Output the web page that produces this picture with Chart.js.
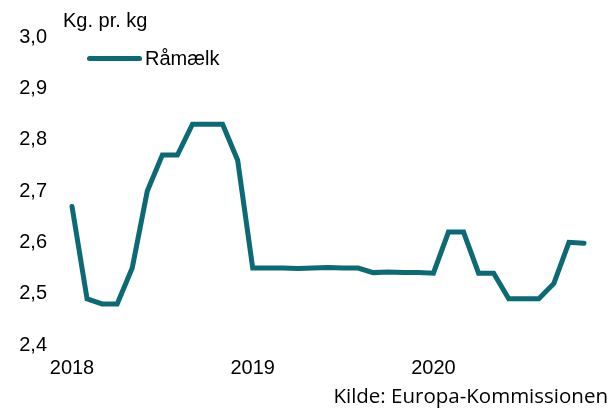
<!DOCTYPE html>
<html>
<head>
<meta charset="utf-8">
<script src="https://cdn.jsdelivr.net/npm/chart.js@4"></script>
<style>
  html, body { margin: 0; padding: 0; background: #fff; }
  #wrap { position: relative; width: 614px; height: 410px; overflow: hidden; }
  #c { position: absolute; left: 0; top: 0; }
  .txt { position: absolute; font-family: "Liberation Sans", Arial, sans-serif; font-size: 20px; color: #000; white-space: nowrap; line-height: 1; }
  #unit { left: 63px; top: 10px; }
  #legend { position: absolute; left: 87px; top: 47px; display: flex; align-items: center; font-family: "Liberation Sans", Arial, sans-serif; font-size: 20px; color: #000; line-height: 22px; }
  #legend .sw { display: inline-block; width: 55px; height: 5px; border-radius: 3px; margin-right: 3px; }
  #source { right: 6px; top: 385px; font-family: "Open Sans", "Noto Sans", sans-serif; font-size: 20.5px; }
</style>
</head>
<body>
<div id="wrap">
  <canvas id="c" width="614" height="410"></canvas>
  <div class="txt" id="unit">Kg. pr. kg</div>
  <div id="legend"></div>
  <div class="txt" id="source">Kilde: Europa-Kommissionen</div>
</div>
<script>
// Categories: monthly observations Jan 2018 - Nov 2020
const months = [
  "2018-01","2018-02","2018-03","2018-04","2018-05","2018-06","2018-07","2018-08","2018-09","2018-10","2018-11","2018-12",
  "2019-01","2019-02","2019-03","2019-04","2019-05","2019-06","2019-07","2019-08","2019-09","2019-10","2019-11","2019-12",
  "2020-01","2020-02","2020-03","2020-04","2020-05","2020-06","2020-07","2020-08","2020-09","2020-10","2020-11"
];
// Series: Råmælk (kr. pr. kg)
const raamaelk = [
  2.67, 2.49, 2.48, 2.48, 2.55, 2.70, 2.77, 2.77, 2.83, 2.83, 2.83, 2.76,
  2.55, 2.55, 2.55, 2.549, 2.55, 2.551, 2.55, 2.55, 2.541, 2.542, 2.541, 2.541,
  2.54, 2.62, 2.62, 2.54, 2.54, 2.49, 2.49, 2.49, 2.52, 2.60, 2.598
];
// Tick labels
const yearTicks = ["2018", "2019", "2020"];
const yTicks = [2.4, 2.5, 2.6, 2.7, 2.8, 2.9, 3.0];
const seriesName = "Råmælk";
const lineColor = "#0b6a73";

const tickFont = { family: "'Liberation Sans', Arial, sans-serif", size: 20 };

const chart = new Chart(document.getElementById("c"), {
  type: "line",
  data: {
    labels: months,
    datasets: [{
      label: seriesName,
      data: raamaelk,
      borderColor: lineColor,
      backgroundColor: lineColor,
      borderWidth: 5,
      pointRadius: 0,
      tension: 0,
      borderCapStyle: "round",
      borderJoinStyle: "miter",
      clip: false
    }]
  },
  options: {
    responsive: false,
    animation: false,
    layout: { padding: { left: 0, right: 30, top: 37, bottom: 19 } },
    plugins: { legend: { display: false }, tooltip: { enabled: false }, title: { display: false } },
    scales: {
      x: {
        type: "category",
        offset: false,
        grid: { display: false, drawTicks: false },
        border: { display: false },
        ticks: {
          autoSkip: false,
          maxRotation: 0,
          minRotation: 0,
          padding: 11,
          color: "#000",
          font: tickFont,
          callback: function (v, i) { return i % 12 === 0 ? yearTicks[i / 12] : ""; }
        }
      },
      y: {
        min: yTicks[0],
        max: yTicks[yTicks.length - 1],
        grid: { display: false, drawTicks: false },
        border: { display: false },
        afterFit: function (s) { s.width = 72; },
        afterBuildTicks: function (s) { s.ticks = yTicks.map(v => ({ value: v })); },
        ticks: {
          padding: 25,
          color: "#000",
          font: tickFont,
          callback: function (v) { return Number(v).toFixed(1).replace(".", ","); }
        }
      }
    }
  }
});

// HTML legend built from the dataset
const lg = document.getElementById("legend");
chart.data.datasets.forEach(ds => {
  const sw = document.createElement("span");
  sw.className = "sw";
  sw.style.background = ds.borderColor;
  const t = document.createElement("span");
  t.textContent = ds.label;
  lg.appendChild(sw);
  lg.appendChild(t);
});
</script>
</body>
</html>
